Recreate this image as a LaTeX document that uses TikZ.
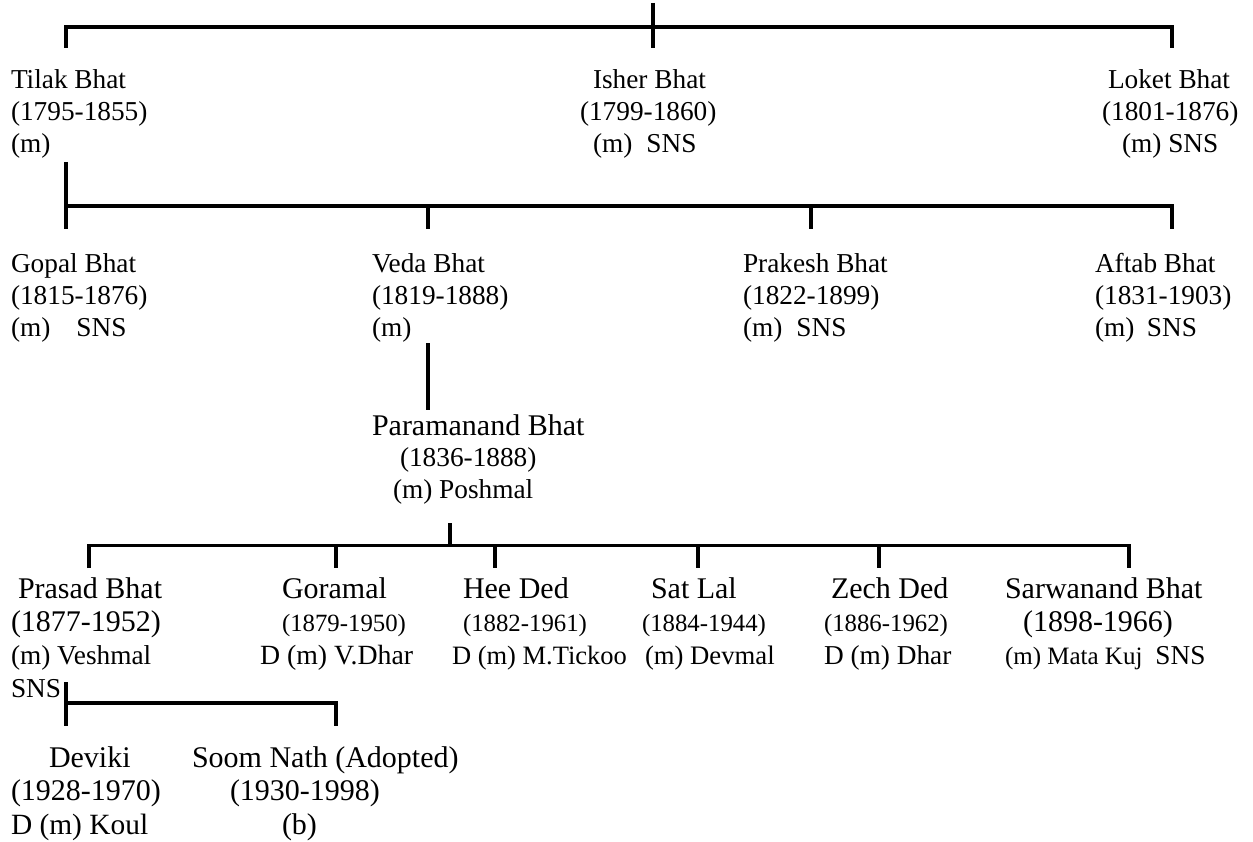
\documentclass[tikz,border=0pt]{standalone}
\usepackage{fontspec}
\setmainfont{Liberation Serif}

% type sizes used in the chart (1 unit = 1pt)
\newcommand{\szA}{\fontsize{27.3}{27.3}\selectfont}
\newcommand{\szB}{\fontsize{30}{30}\selectfont}
\newcommand{\szC}{\fontsize{24.8}{24.8}\selectfont}
\newcommand{\szE}{\fontsize{26.5}{26.5}\selectfont}
\newcommand{\szF}{\fontsize{26.7}{26.7}\selectfont}
\newcommand{\szG}{\fontsize{29.4}{29.4}\selectfont}
\newcommand{\szK}{\fontsize{25}{25}\selectfont}
\newcommand{\szV}{\fontsize{27.8}{27.8}\selectfont}

% a block of lines with a fixed line pitch; baseline = first line
\newcommand{\entry}[2]{{\fontsize{#1}{#1}\selectfont
  \begin{tabular}[t]{@{}l@{}}#2\end{tabular}}}

\begin{document}
\begin{tikzpicture}[x=1pt, y=-1pt,
  person/.style={anchor=base west, inner sep=0pt, outer sep=0pt},
  kin/.style={line width=3.2pt, line join=miter, line cap=butt, black}]

\useasboundingbox (0,0) rectangle (1253,842);

% ---------- generation 1 ----------
\node[person] (tilak) at (11,89) {\entry{32}{%
  \szA Tilak Bhat\\ \szA (1795-1855)\\ \szA (m)}};
\node[person] (isher) at (580,89) {\entry{32}{%
  \hspace*{13pt}\szA Isher Bhat\\ \szA (1799-1860)\\
  \hspace*{13pt}\szA (m)\hspace{14pt}SNS}};
\node[person] (loket) at (1102,89) {\entry{32}{%
  \hspace*{6pt}\szA Loket Bhat\\ \szA (1801-1876)\\
  \hspace*{20pt}\szA (m) SNS}};

% ---------- generation 2 ----------
\node[person] (gopal) at (11,273) {\entry{32}{%
  \szA Gopal Bhat\\ \szA (1815-1876)\\ \szA (m)\hspace{26pt}SNS}};
\node[person] (veda) at (372,273) {\entry{32}{%
  \szA Veda Bhat\\ \szA (1819-1888)\\ \szA (m)}};
\node[person] (prakesh) at (743,273) {\entry{32}{%
  \szA Prakesh Bhat\\ \szA (1822-1899)\\ \szA (m)\hspace{14pt}SNS}};
\node[person] (aftab) at (1095,273) {\entry{32}{%
  \szA Aftab Bhat\\ \szA (1831-1903)\\ \szA (m)\hspace{12.5pt}SNS}};

% ---------- generation 3 ----------
\node[person] (para) at (372,435) {\entry{31.5}{%
  \szB Paramanand Bhat\\
  \hspace*{28pt}\szA (1836-1888)\\
  \hspace*{21pt}\szA (m) Poshmal}};

% ---------- generation 4 ----------
\node[person] (prasad) at (11,598) {\entry{33}{%
  \hspace*{7pt}\szB Prasad Bhat\\ \szB (1877-1952)\\
  \szA (m) Veshmal\\ \szA SNS}};
\node[person] (goramal) at (260,598) {\entry{33}{%
  \hspace*{22pt}\szB Goramal\\ \hspace*{22pt}\szC (1879-1950)\\
  \szV D (m) V.Dhar}};
\node[person] (hee) at (452,598) {\entry{33}{%
  \hspace*{11pt}\szB Hee Ded\\ \hspace*{11pt}\szC (1882-1961)\\
  \szE D (m) M.Tickoo}};
\node[person] (satlal) at (642,598) {\entry{33}{%
  \hspace*{9pt}\szB Sat Lal\\ \szC (1884-1944)\\
  \hspace*{3pt}\szF (m) Devmal}};
\node[person] (zech) at (824,598) {\entry{33}{%
  \hspace*{7pt}\szB Zech Ded\\ \szC (1886-1962)\\
  \szA D (m) Dhar}};
\node[person] (sarwa) at (1005,598) {\entry{33}{%
  \szB Sarwanand Bhat\\ \hspace*{18pt}\szB (1898-1966)\\
  \szK (m) Mata Kuj\hspace{13pt}\szA SNS}};

% ---------- generation 5 ----------
\node[person] (deviki) at (11,767) {\entry{33.5}{%
  \hspace*{38pt}\szB Deviki\\ \szB (1928-1970)\\ \szG D (m) Koul}};
\node[person] (soom) at (192,767) {\entry{33.5}{%
  \szB Soom Nath (Adopted)\\ \hspace*{38pt}\szB (1930-1998)\\
  \hspace*{90pt}\szB (b)}};

% ---------- line ends and junctions ----------
\coordinate (root)      at (653,3);
\coordinate (j1)        at (653,27);
\coordinate (tilak-in)  at (66,48);
\coordinate (isher-in)  at (653,48);
\coordinate (loket-in)  at (1172,48);

\coordinate (tilak-out) at (66,162);
\coordinate (j2)        at (66,206);
\coordinate (gopal-in)  at (66,229);
\coordinate (veda-in)   at (428,229);
\coordinate (prak-in)   at (811,229);
\coordinate (aftab-in)  at (1172,229);

\coordinate (veda-out)  at (428,343);
\coordinate (para-in)   at (428,410);

\coordinate (para-out)  at (450,523);
\coordinate (j3)        at (450,545.5);
\coordinate (prasad-in) at (89,568);
\coordinate (gor-in)    at (336,568);
\coordinate (hee-in)    at (495,568);
\coordinate (sat-in)    at (698,568);
\coordinate (zech-in)   at (879,568);
\coordinate (sarwa-in)  at (1129,568);

\coordinate (prasad-out) at (66,682);
\coordinate (j4)         at (66,703);
\coordinate (deviki-in)  at (66,726);
\coordinate (soom-in)    at (336,726);

% ---------- connectors ----------
\draw[kin] (root) -- (isher-in);
\draw[kin] (tilak-in) |- (j1) -| (loket-in);

\draw[kin] (tilak-out) -- (gopal-in);
\draw[kin] (j2) -| (aftab-in);
\draw[kin] (veda-in |- j2) -- (veda-in);
\draw[kin] (prak-in |- j2) -- (prak-in);

\draw[kin] (veda-out) -- (para-in);

\draw[kin] (para-out) -- (j3);
\draw[kin] (prasad-in) |- (j3) -| (sarwa-in);
\draw[kin] (gor-in |- j3) -- (gor-in);
\draw[kin] (hee-in |- j3) -- (hee-in);
\draw[kin] (sat-in |- j3) -- (sat-in);
\draw[kin] (zech-in |- j3) -- (zech-in);

\draw[kin] (prasad-out) -- (deviki-in);
\draw[kin] (j4) -| (soom-in);

\end{tikzpicture}
\end{document}
